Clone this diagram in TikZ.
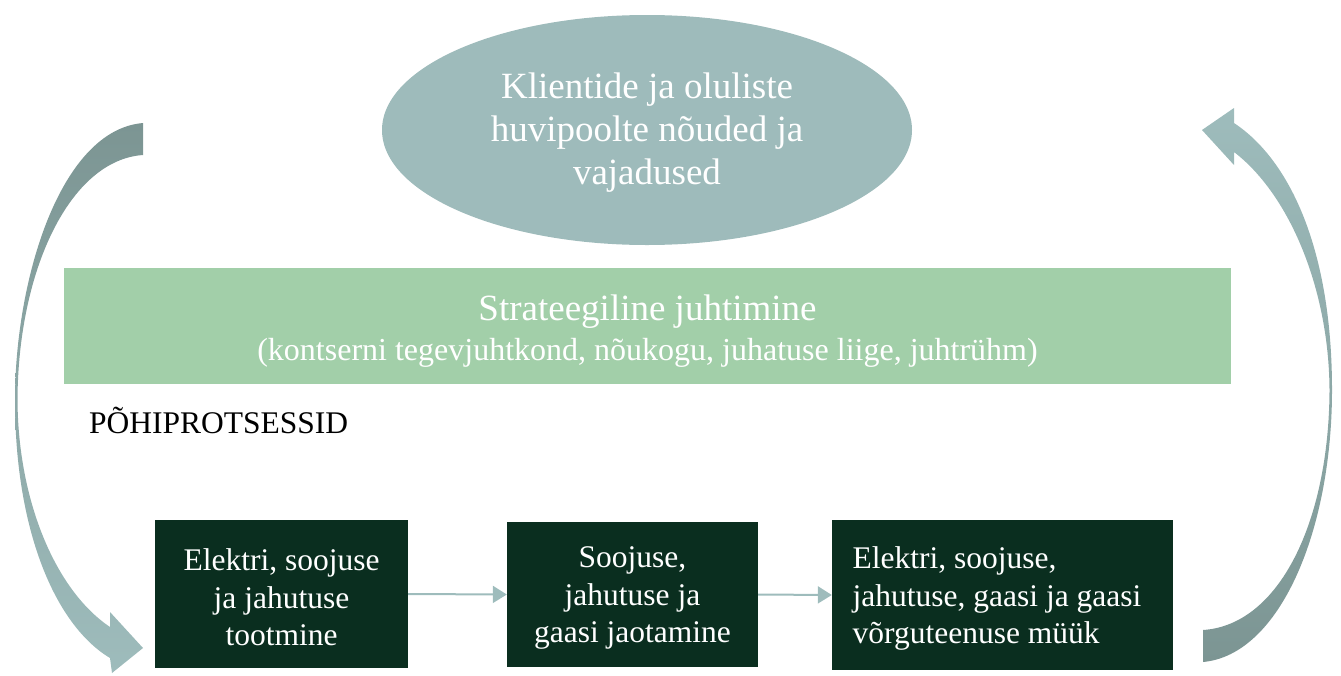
\documentclass[tikz,border=0pt]{standalone}
\usepackage{fontspec}
\setmainfont{Liberation Serif}
\usetikzlibrary{shapes.geometric,arrows.meta}
\definecolor{cEll}{HTML}{9EBBBB}
\definecolor{cGreen}{HTML}{A2CFA9}
\definecolor{cDark}{HTML}{0A2E1F}
\definecolor{cArrDark}{HTML}{7C9593}
\definecolor{cArrLight}{HTML}{9EBCBC}
\tikzset{
  procbox/.style={rectangle, fill=cDark, inner sep=0pt},
  proctext/.style={text=white, inner sep=0pt, font=\fontsize{31.5}{37.5}\selectfont, align=center},
  conn/.style={draw=cArrLight, line width=2pt, -{Triangle[length=14pt,width=17pt]}}
}
\begin{document}
\begin{tikzpicture}[x=1pt,y=-1pt]
\useasboundingbox (0,0) rectangle (1341,675);
% top ellipse
\node[ellipse, fill=cEll, minimum width=530pt, minimum height=230pt, inner sep=0pt] (need) at (647,130) {};
\node[text=white, inner sep=0pt, font=\fontsize{37}{43}\selectfont, align=center] (needtext) at (647,133)
  {Klientide ja oluliste\\huvipoolte nõuded ja\\vajadused};
% strategic management band
\node[rectangle, fill=cGreen, minimum width=1167pt, minimum height=116pt, inner sep=0pt] (strat) at (647.5,326) {};
\node[text=white, inner sep=0pt, font=\fontsize{32}{40}\selectfont, align=center] (strattext) at (647.5,331)
  {{\fontsize{37}{40}\selectfont Strateegiline juhtimine}\\(kontserni tegevjuhtkond, nõukogu, juhatuse liige, juhtrühm)};
% label
\node[anchor=west, inner sep=0pt, font=\fontsize{31.5}{36}\selectfont] (core) at (89,420) {PÕHIPROTSESSID};
% process boxes
\node[procbox, minimum width=253pt, minimum height=148pt] (b1) at (281.5,594) {};
\node[proctext] (b1text) at (281.5,597.5) {Elektri, soojuse\\ja jahutuse\\tootmine};
\node[procbox, minimum width=251pt, minimum height=145pt] (b2) at (632.5,594.5) {};
\node[proctext] (b2text) at (632.5,598) {Soojuse,\\jahutuse ja\\gaasi jaotamine};
\node[procbox, minimum width=341pt, minimum height=150pt] (b3) at (1002.5,595) {};
\node[proctext, align=left, anchor=west] (b3text) at (852.5,598.5) {Elektri, soojuse,\\jahutuse, gaasi ja gaasi\\võrguteenuse müük};
% connectors
\draw[conn] (b1.east) -- (b2.west);
\draw[conn] (b2.east) -- (b3.west);
% left curved arrow
\shade[top color=cArrDark, bottom color=cArrLight]
  (143,123) .. controls (60,130) and (15,280) .. (15,400)
  .. controls (15,530) and (55,625) .. (110,658)
  -- (112,673) -- (143,648) -- (110,612) -- (110,627)
  .. controls (55,590) and (18,500) .. (17.5,400)
  .. controls (18,270) and (70,160) .. (143,155) -- cycle;
% right curved arrow
\shade[top color=cArrLight, bottom color=cArrDark]
  (1203,662) .. controls (1280,655) and (1332,530) .. (1332,390)
  .. controls (1332,250) and (1290,160) .. (1234,123)
  -- (1234,108) -- (1202,130) -- (1234,165) -- (1234,152)
  .. controls (1290,195) and (1329,290) .. (1329.5,390)
  .. controls (1329,520) and (1280,625) .. (1203,630) -- cycle;
\end{tikzpicture}
\end{document}
